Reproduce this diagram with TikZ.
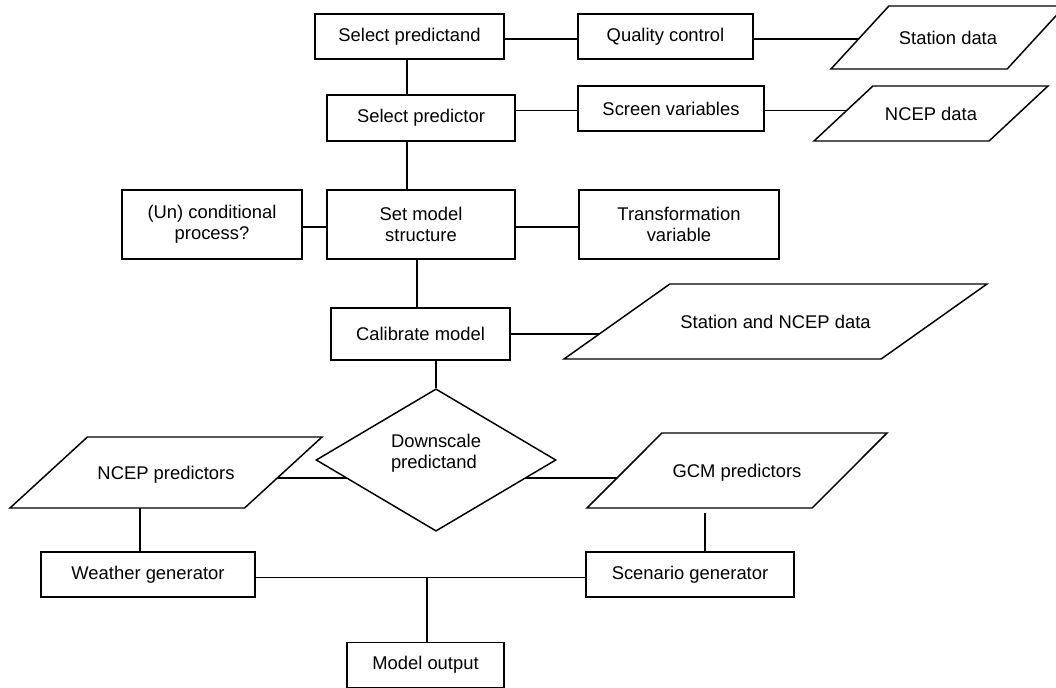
\documentclass[tikz,border=0pt]{standalone}
\usepackage{fontspec}
\setmainfont{Liberation Sans}
\usetikzlibrary{shapes.geometric, backgrounds, calc}

\begin{document}
\begin{tikzpicture}[
        x=0.75pt, y=-0.75pt,
        base/.style={draw, fill=white, line width=1.1pt, align=center, inner sep=0pt, font=\fontsize{13.8}{15.8}\selectfont},
        sz/.style 2 args={minimum width=#1*0.75pt, minimum height=#2*0.75pt},
        box/.style={base, rectangle},
        data/.style n args={4}{base, trapezium, trapezium left angle=#1, trapezium right angle=#2, trapezium stretches body=true, text height=#3, text depth=#4},
        decision/.style={base, diamond, align=left, text depth=13.5pt},
        link/.style={line width=1.1pt}
    ]

    \useasboundingbox (0,0) rectangle (1056,688);

    \node (spd) at (409.5,36.5) [box, sz={189}{45}] {Select predictand};
    \node (qc) at (665.5,36.5) [box, sz={175}{45}] {Quality control};
    \node (sd) at (948,37.5) [data={47.4}{132.6}{28.5pt}{18.7pt}, sz={234}{63}] {Station data};

    \node (spr) at (421,118) [box, sz={188}{46}] {Select predictor};
    \node (sv) at (671,108.5) [box, sz={186}{45}] {Screen variables};
    \node (nd) at (931,113.5) [data={43}{137}{25.5pt}{15.7pt}, sz={234}{55}] {NCEP data};

    \node (ucp) at (212,224.5) [box, sz={180}{69}] {(Un) conditional\\process?};
    \node (sms) at (421,224.5) [box, sz={188}{69}] {Set model\\structure};
    \node (tv) at (679,224.5) [box, sz={200}{69}] {Transformation\\variable};

    \node (cm) at (420.5,334) [box, sz={179}{52}] {Calibrate model};
    \node (snd) at (775.5,321.5) [data={35.3}{144.7}{33pt}{23.2pt}, sz={423}{75}] {Station and NCEP data};

    \node (dp) at (436,460) [decision, sz={240}{134}] {Downscale\\predictand};
    \node (np) at (166,472.5) [data={42.5}{137.5}{31.5pt}{21.7pt}, sz={312}{71}] {NCEP predictors};
    \node (gp) at (737,470.5) [data={45}{135}{33pt}{23.2pt}, sz={300}{75}] {GCM predictors};

    \node (wg) at (148,574.5) [box, sz={214}{45}] {Weather generator};
    \node (sg) at (690,574.5) [box, sz={208}{45}] {Scenario generator};
    \node (mo) at (425.5,665) [box, sz={157}{45}] {Model output};

    \begin{scope}[on background layer]
    \draw [link] ($(spd)+(0,2.5)$) -- ($(spd -| sd)+(0,2.5)$);
    \draw [link] ($(spd)+(-2.5,0)$) -- ($(spd |- sms)+(-2.5,0)$);
    \draw [link] ($(sv)+(0,2)$) -- ($(sv -| spr)+(0,2)$);
    \draw [link] ($(sv)+(0,2)$) -- ($(sv -| nd)+(0,2)$);
    \draw [link] ($(ucp)+(0,2.5)$) -- ($(tv)+(0,2.5)$);
    \draw [link] ($(sms)+(-4,0)$) -- ($(sms |- cm)+(-4,0)$);
    \draw [link] (cm) -- (cm -| snd);
    \draw [link] (dp) -- (dp |- cm);
    \draw [link] ($(np)+(0,5.5)$) -- ($(np -| gp)+(0,5.5)$);
    \draw [link] ($(wg)+(-8,0)$) -- ($(wg |- np)+(-8,0)$);
    \draw [link] ($(sg.north)+(15,0)$) -- ($(sg.north |- gp.south)+(15,4)$);
    \draw [link] ($(wg)+(0,3)$) -- ($(sg)+(0,3)$);
    \draw [link] ($(mo |- wg)+(1.5,3)$) -- ($(mo)+(1.5,0)$);
    \end{scope}

\end{tikzpicture}
\end{document}
